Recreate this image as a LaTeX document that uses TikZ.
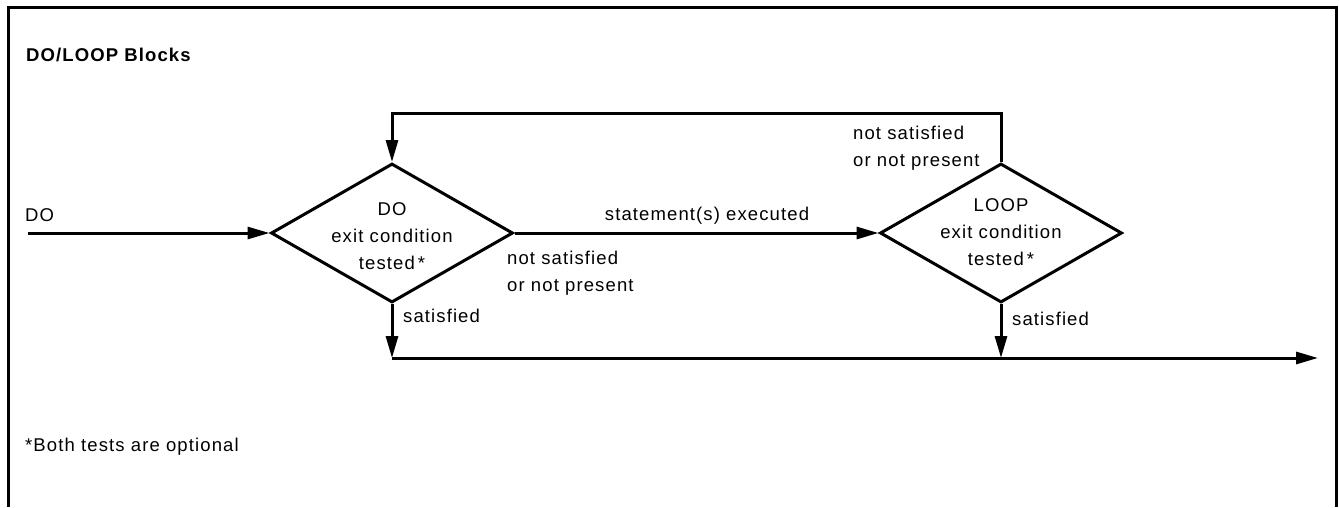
\documentclass[tikz,border=0pt]{standalone}
\usepackage{fontspec}
\setmainfont{Liberation Sans}[LetterSpace=6]
\usetikzlibrary{shapes.geometric,arrows.meta}
\begin{document}
\begin{tikzpicture}[x=1pt,y=1pt,
  flow/.style={line width=3pt},
  arr/.style={flow,-{Triangle[length=22pt,width=12pt]}},
  test/.style={draw,line width=3pt,shape=diamond,minimum width=242pt,minimum height=139pt,inner sep=0pt},
  txt/.style={font=\fontsize{18.5}{27}\selectfont,inner sep=0pt},
  head/.style={font=\fontsize{18.5}{27}\selectfont\bfseries,inner sep=0pt},
]
\useasboundingbox (0,0) rectangle (1339,-507);
% open frame
\draw[line width=3pt] (8,-507) -- (8,-7) -- (1336,-7) -- (1336,-507);

\node[head,anchor=base west] (title) at (26,-61) {DO/LOOP Blocks};

% the two tests
\node[test] (do) at (392,-233) {};
\node[test] (loop) at (1001,-233) {};
\node[txt,align=center] (dotxt) at (392,-236) {DO\\exit condition\\tested\,*};
\node[txt,align=center] (looptxt) at (1001,-232) {LOOP\\exit condition\\tested\,*};

% connector end points
\coordinate (in) at (28,-233);
\coordinate (ret) at (1000,-113);
\coordinate (join) at (392,-358);
\coordinate (out) at (1318,-358);

% connectors
\draw[arr] (in) -- (do.west);
\draw[arr] (do.east) -- (loop.west);
\draw[arr] (loop.north) -- (loop.north |- ret) -| (do.north);
\draw[arr] (do.south) -- (join);
\draw[arr] (join) -- (out);
\draw[arr] (loop.south) -- (loop.south |- out);

% labels
\node[txt,anchor=base west] (dolbl) at (25,-221) {DO};
\node[txt,anchor=base] (stmt) at (707,-220) {statement(s) executed};
\node[txt,anchor=north west,align=left] (donot) at (507,-251) {not satisfied\\or not present};
\node[txt,anchor=base west] (dosat) at (403,-322) {satisfied};
\node[txt,anchor=north west,align=left] (loopnot) at (853,-126) {not satisfied\\or not present};
\node[txt,anchor=base west] (loopsat) at (1012,-325) {satisfied};
\node[txt,anchor=base west] (note) at (25,-451) {*Both tests are optional};
\end{tikzpicture}
\end{document}
